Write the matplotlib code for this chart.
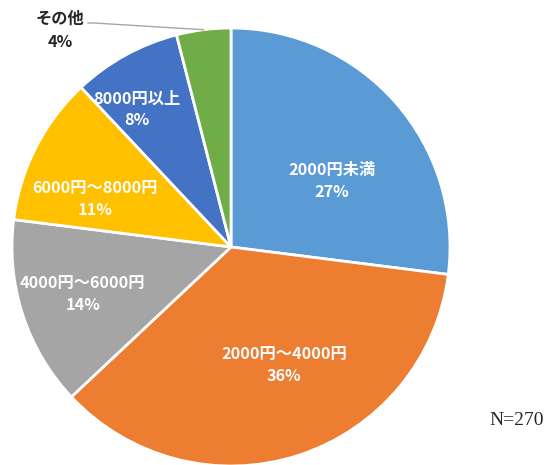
import numpy as np
import matplotlib

matplotlib.use("Agg")
import matplotlib.pyplot as plt

plt.rcParams["font.family"] = ["Noto Sans CJK JP", "DejaVu Sans"]

# price bands and share of respondents (%)
categories = ["2000円未満", "2000円～4000円", "4000円～6000円", "6000円～8000円", "8000円以上", "その他"]
shares = [27, 36, 14, 11, 8, 4]
colors = ["#5B9BD5", "#ED7D31", "#A5A5A5", "#FFC000", "#4472C4", "#70AD47"]
n_total = 270

# inside label placement: radius fraction and angle shift from the wedge middle (deg)
label_r = [0.55, 0.59, 0.71, 0.66, 0.76]
label_shift = [-8.2, 6.2, -0.5, 7.7, 5.5]

W, H = 549, 465
fig = plt.figure(figsize=(W / 100, H / 100), dpi=100)
ax = fig.add_axes([0, 0, 1, 1])

cx, cy, R = 231, 218, 219
wedges, _ = ax.pie(
    shares,
    colors=colors,
    startangle=90,
    counterclock=False,
    center=(cx, cy),
    radius=R,
    frame=True,
    wedgeprops=dict(edgecolor="white", linewidth=2),
)
ax.set_xlim(0, W)
ax.set_ylim(0, H)
ax.set_aspect("equal")
ax.axis("off")

fs = 11.7
for i, w in enumerate(wedges):
    mid = (w.theta1 + w.theta2) / 2
    text = f"{categories[i]}\n{shares[i]}%"
    if i < len(label_r):
        a = np.deg2rad(mid + label_shift[i])
        x = cx + label_r[i] * R * np.cos(a)
        y = cy + label_r[i] * R * np.sin(a)
        ax.text(x, y, text, ha="center", va="center", color="white",
                fontsize=fs, fontweight="bold", linespacing=1.45)
    else:
        # small slice: label outside with a leader line
        a = np.deg2rad(mid)
        px = cx + R * np.cos(a)
        py = cy + R * np.sin(a)
        ax.plot([88, 94, px], [H - 23, H - 23, py], color="#A6A6A6", lw=1)
        ax.text(60, H - 30, text, ha="center", va="center", color="#262626",
                fontsize=fs, fontweight="bold", linespacing=1.55)

ax.text(544, H - 420, f"N={n_total}", ha="right", va="center",
        fontsize=14, family="Liberation Serif", color="#262626")

fig.savefig("out.png", dpi=100)
